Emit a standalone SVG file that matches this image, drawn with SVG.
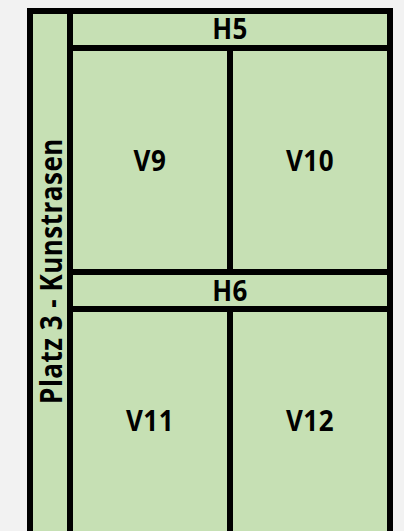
<svg xmlns="http://www.w3.org/2000/svg" width="404" height="531" viewBox="0 0 404 531">
<style>
.cell{fill:#c6e0b4;stroke:#000;stroke-width:6}
.t{font-family:"Open Sans","DejaVu Sans",sans-serif;font-weight:bold;font-size:26px;fill:#000;text-anchor:middle;letter-spacing:0.5px}
</style>
<rect x="0" y="0" width="404" height="531" fill="#f2f2f2"/>
<g id="platz-label">
<rect class="cell" x="30" y="11" width="40" height="530"/>
<text class="t" transform="translate(62,271) rotate(-90) scale(1,1.2)" x="0" y="0">Platz 3 - Kunstrasen</text>
</g>
<g id="H5">
<rect class="cell" x="70" y="11" width="320" height="37"/>
<text class="t" transform="translate(230,39) scale(1,1.12)" x="0" y="0">H5</text>
</g>
<g id="V9">
<rect class="cell" x="70" y="48" width="160" height="224"/>
<text class="t" transform="translate(150,171) scale(1,1.12)" x="0" y="0">V9</text>
</g>
<g id="V10">
<rect class="cell" x="230" y="48" width="160" height="224"/>
<text class="t" transform="translate(310,171) scale(1,1.12)" x="0" y="0">V10</text>
</g>
<g id="H6">
<rect class="cell" x="70" y="272" width="320" height="37"/>
<text class="t" transform="translate(230,301) scale(1,1.12)" x="0" y="0">H6</text>
</g>
<g id="V11">
<rect class="cell" x="70" y="309" width="160" height="232"/>
<text class="t" transform="translate(150,431) scale(1,1.12)" x="0" y="0">V11</text>
</g>
<g id="V12">
<rect class="cell" x="230" y="309" width="160" height="232"/>
<text class="t" transform="translate(310,431) scale(1,1.12)" x="0" y="0">V12</text>
</g>
<g id="connectors"></g>
</svg>
